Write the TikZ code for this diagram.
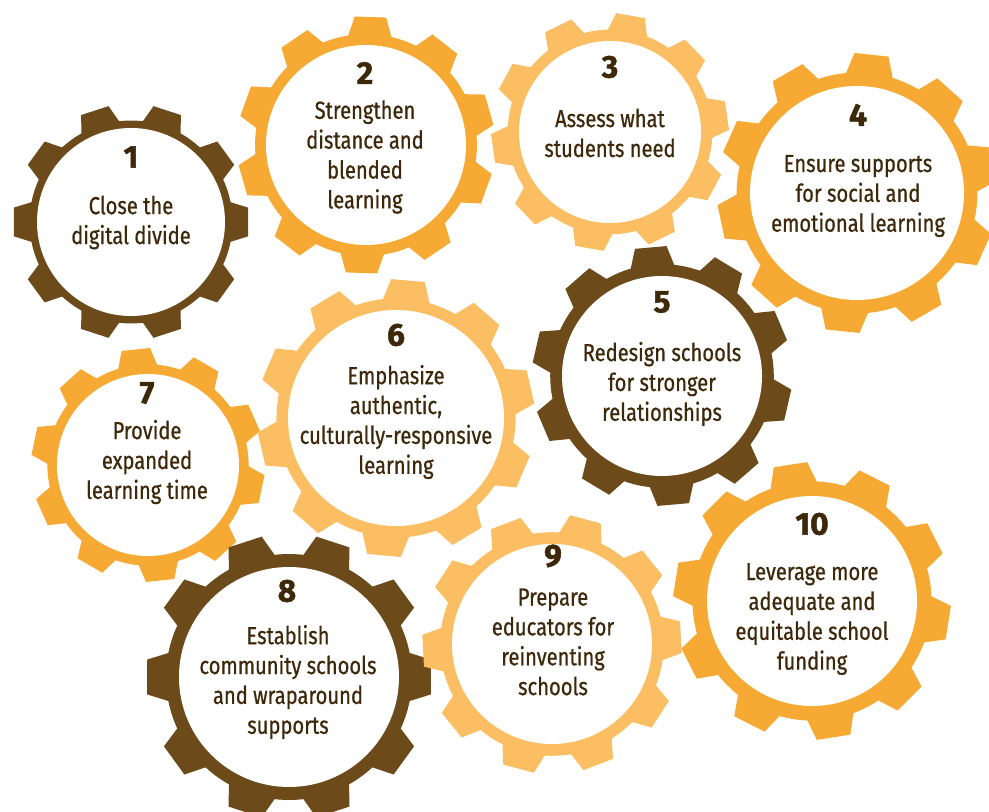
\documentclass[tikz,border=0pt]{standalone}
\usepackage{fontspec}
\setmainfont{Fira Sans}[FakeStretch=0.82,FakeBold=0.7]
\newfontfamily\NbFont{Fira Sans}[BoldFeatures={FakeBold=1.6}]
\usepackage{xcolor}
\definecolor{Col1}{RGB}{108,74,26}
\definecolor{Col2}{RGB}{246,170,52}
\definecolor{Col3}{RGB}{252,190,98}
\definecolor{ColT}{RGB}{62,40,10}
\usepackage{tikz}
\tikzstyle{NodeNb}=[inner sep=0pt,text=ColT,
font=\NbFont\fontsize{18}{20}\selectfont\bfseries]
\tikzstyle{NodeTxt}=[inner sep=0pt,text=ColT,align=center,
font=\fontsize{14}{17}\selectfont]
% #1,#2 centre, #3 outer radius, #4 hole radius, #5 phase, #6 colour
\newcommand{\Gear}[6]{%
    \fill[#6](#1,#2)circle({0.86*#3});
    \foreach \a in {0,36,...,324}{
        \fill[#6,shift={(#1,#2)}]({#5+\a-12}:{0.84*#3})
            --({#5+\a-7}:#3)--({#5+\a+7}:#3)
            --({#5+\a+12}:{0.84*#3})--cycle;}
    \fill[white](#1,#2)circle(#4);}

\begin{document}
\begin{tikzpicture}[x=0.02cm,y=0.02cm]
            \useasboundingbox[fill=white](0,0)rectangle(989,811);
            \Gear{131}{589}{118}{94}{0}{Col1}
            \Gear{366}{666}{129}{100}{16}{Col2}
            \Gear{610}{679}{119}{91}{8}{Col3}
            \Gear{857}{618}{140}{107}{12}{Col2}
            \Gear{662}{435}{130}{100}{23}{Col1}
            \Gear{396}{393}{139}{108}{13}{Col3}
            \Gear{148}{346}{117}{91}{24}{Col2}
            \Gear{289}{134}{143}{110}{0}{Col1}
            \Gear{552}{167}{130}{100}{3}{Col3}
            \Gear{812}{210}{139}{105}{27}{Col2}
            \node[NodeNb](1)at(131,654){1};
            \node[NodeNb](2)at(365,738){2};
            \node[NodeNb](3)at(610,744){3};
            \node[NodeNb](4)at(858,696){4};
            \node[NodeNb](5)at(662,509){5};
            \node[NodeNb](6)at(396,476){6};
            \node[NodeNb](7)at(147,418){7};
            \node[NodeNb](8)at(287,220){8};
            \node[NodeNb](9)at(553,255){9};
            \node[NodeNb](10)at(812,287){10};
            \node[NodeTxt](1t)at(131,588.5){Close the\\digital divide};
            \node[NodeTxt](2t)at(365,654){Strengthen\\distance and\\
                blended\\learning};
            \node[NodeTxt](3t)at(610,678){Assess what\\students need};
            \node[NodeTxt](4t)at(858,615){Ensure supports\\
                for social and\\emotional learning};
            \node[NodeTxt](5t)at(662,427){Redesign schools\\
                for stronger\\relationships};
            \node[NodeTxt](6t)at(396,389){Emphasize\\authentic,\\
                culturally-responsive\\learning};
            \node[NodeTxt](7t)at(147,349){Provide\\expanded\\
                learning time};
            \node[NodeTxt](8t)at(288,129){Establish\\
                community schools\\and wraparound\\supports};
            \node[NodeTxt](9t)at(553,169){Prepare\\educators for\\
                reinventing\\schools};
            \node[NodeTxt](10t)at(812,192){Leverage more\\adequate and\\
                equitable school\\funding};
        \end{tikzpicture}
\end{document}
